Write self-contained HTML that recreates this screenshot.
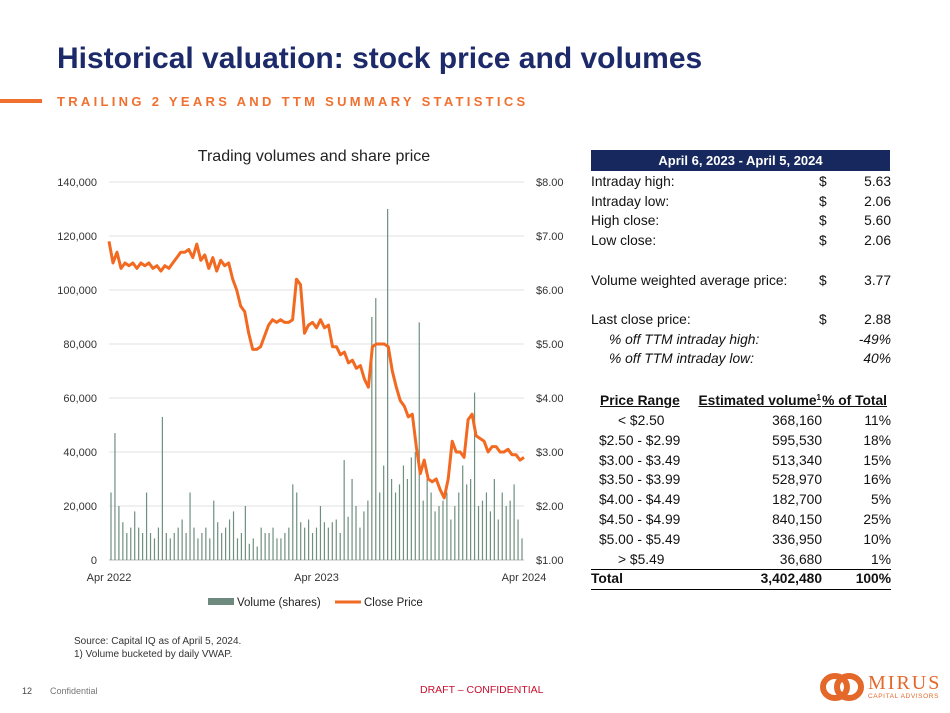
<!DOCTYPE html>
<html><head><meta charset="utf-8">
<style>
body{margin:0;width:950px;height:713px;background:#fff;font-family:"Liberation Sans",sans-serif;position:relative;overflow:hidden}
.a{position:absolute;white-space:nowrap}
.r{position:absolute;left:591px;width:300px;height:20px;font-size:13.8px;color:#111;line-height:20px}
.r>span{position:absolute}
</style></head><body>
<div class="a" style="left:57px;top:42px;font-size:30px;font-weight:bold;color:#1c2a6a">Historical valuation: stock price and volumes</div>
<div class="a" style="left:0;top:99px;width:42px;height:4px;background:#f07030"></div>
<div class="a" style="left:57px;top:94px;font-size:13px;font-weight:bold;color:#f07030;letter-spacing:3.3px">TRAILING 2 YEARS AND TTM SUMMARY STATISTICS</div>

<svg class="a" style="left:0;top:0" width="580" height="620">
<text x="314" y="161" font-size="16" text-anchor="middle" fill="#222">Trading volumes and share price</text>
<g id="grid"></g><g id="bars"></g><g id="line"></g><g id="ticks"></g>
<rect x="208" y="598" width="26" height="7" fill="#6e8a7e"/>
<text x="237" y="606" font-size="11.5" fill="#222">Volume (shares)</text>
<line x1="335" y1="602" x2="361" y2="602" stroke="#f26a21" stroke-width="3"/>
<text x="364" y="606" font-size="11.5" fill="#222">Close Price</text>
</svg>

<div class="a" style="left:591px;top:150px;width:299px;height:21px;background:#16285e;color:#fff;font-weight:bold;font-size:13px;text-align:center;line-height:21px">April 6, 2023 - April 5, 2024</div>
<div id="tbl"></div>
<div class="a" style="left:591px;top:569px;width:300px;height:1px;background:#000"></div>
<div class="a" style="left:591px;top:589px;width:300px;height:1px;background:#000"></div>

<div class="a" style="left:74px;top:635px;font-size:10px;color:#333;line-height:13px">Source: Capital IQ as of April 5, 2024.<br>1) Volume bucketed by daily VWAP.</div>
<div class="a" style="left:22px;top:686px;font-size:9px;color:#444">12</div>
<div class="a" style="left:50px;top:686px;font-size:9px;color:#777">Confidential</div>
<div class="a" style="left:420px;top:684px;font-size:10.5px;color:#c8102e">DRAFT – CONFIDENTIAL</div>
<svg class="a" style="left:818px;top:672px" width="50" height="30">
<ellipse cx="17" cy="15" rx="12" ry="11" fill="none" stroke="#e4682a" stroke-width="6"/>
<ellipse cx="31" cy="15" rx="12" ry="11" fill="none" stroke="#e4682a" stroke-width="6"/>
</svg>
<div class="a" style="left:868px;top:672px;font-family:'Liberation Serif',serif;font-size:20px;color:#e4682a;letter-spacing:2px">MIRUS</div>
<div class="a" style="left:868px;top:693px;font-size:6.5px;color:#e4682a;letter-spacing:0.6px">CAPITAL ADVISORS</div>

<script>
const prices=[6.9,6.5,6.7,6.4,6.5,6.45,6.5,6.4,6.5,6.45,6.5,6.4,6.45,6.35,6.45,6.4,6.5,6.6,6.7,6.7,6.75,6.6,6.85,6.55,6.65,6.4,6.6,6.35,6.55,6.45,6.5,6.2,6.0,5.7,5.6,5.2,4.9,4.9,4.95,5.15,5.35,5.45,5.4,5.45,5.4,5.4,5.45,6.2,6.1,5.2,5.35,5.4,5.3,5.45,5.3,5.35,4.95,4.95,4.8,4.85,4.65,4.7,4.55,4.6,4.35,4.2,4.95,5.0,5.0,5.0,4.95,4.5,4.2,3.95,3.85,3.65,3.7,3.1,2.6,2.85,2.5,2.45,2.5,2.3,2.15,2.5,3.2,3.0,3.0,2.9,3.6,3.7,3.3,3.25,3.2,3.0,3.1,3.1,3.0,3.0,3.05,2.95,2.95,2.85,2.9];
const volumes=[25,47,20,14,10,12,18,12,10,25,10,8,12,53,10,8,10,12,15,10,25,12,8,10,12,8,22,14,10,12,15,18,8,10,20,6,8,5,12,10,10,12,8,8,10,12,28,25,14,12,15,10,12,20,14,12,14,15,10,37,16,30,20,12,18,22,90,97,25,35,130,30,25,28,35,30,38,40,88,22,30,25,18,20,22,25,15,20,25,35,28,30,62,20,22,25,18,30,15,25,20,22,28,15,8];
const volTicks=[0,20000,40000,60000,80000,100000,120000,140000];
const priceTicks=["$1.00","$2.00","$3.00","$4.00","$5.00","$6.00","$7.00","$8.00"];
const xLabels=["Apr 2022","Apr 2023","Apr 2024"];
const X0=109,X1=524,Y0=560,Y1=182;
const yVol=v=>Y0-(v/140000)*(Y0-Y1);
const yPx=p=>Y0-((p-1)/7)*(Y0-Y1);
const NS="http://www.w3.org/2000/svg";
function mk(t,a,p){const e=document.createElementNS(NS,t);for(const k in a)e.setAttribute(k,a[k]);p.appendChild(e);return e;}
const g=document.getElementById('grid'),tk=document.getElementById('ticks');
volTicks.forEach((v,i)=>{const y=yVol(v);
 const l=mk('line',{x1:X0,x2:X1,y1:y,y2:y,stroke:i==0?'#bbb':'#e0e0e0','stroke-width':1},g);
 
 const t=mk('text',{x:97,y:y+4,'font-size':11,'text-anchor':'end',fill:'#333'},tk);t.textContent=v.toLocaleString('en-US');
 
 const t2=mk('text',{x:536,y:y+4,'font-size':11,fill:'#333'},tk);t2.textContent=priceTicks[i];
 });
xLabels.forEach((s,i)=>{const x=X0+i*(X1-X0)/2;const t=mk('text',{x:x,y:581,'font-size':11,'text-anchor':'middle',fill:'#333'},tk);t.textContent=s;
 });
const b=document.getElementById('bars');const nV=volumes.length;
volumes.forEach((v,i)=>{const x=X0+2+i*(X1-X0-4)/(nV-1);const y=yVol(v*1000);
 const r=mk('rect',{x:x-0.6,y:y,width:1.2,height:Y0-y,fill:'#6f8f80'},b);
 });
const n=prices.length;const pts=prices.map((p,i)=>(X0+i*(X1-X0)/(n-1)).toFixed(1)+','+yPx(p).toFixed(1)).join(' ');
const pl=mk('polyline',{points:pts,fill:'none',stroke:'#f26a21','stroke-width':3,'stroke-linejoin':'round'},document.getElementById('line'));


const rows=[
[172,'Intraday high:','$','5.63'],[192,'Intraday low:','$','2.06'],[211,'High close:','$','5.60'],[231,'Low close:','$','2.06'],
[271,'Volume weighted average price:','$','3.77'],[310,'Last close price:','$','2.88'],
[330,'<i>% off TTM intraday high:</i>','','<i>-49%</i>',1],[349,'<i>% off TTM intraday low:</i>','','<i>40%</i>',1]];
const T=document.getElementById('tbl');
rows.forEach(r=>{const d=document.createElement('div');d.className='r';d.style.top=r[0]+'px';
 
 d.innerHTML='<span style="left:'+(r[4]?18:0)+'px">'+r[1]+'</span><span style="left:228px">'+r[2]+'</span><span style="right:0">'+r[3]+'</span>';T.appendChild(d);});
const hd=document.createElement('div');hd.className='r';hd.style.top='391px';hd.style.fontWeight='bold';

hd.innerHTML='<span style="left:9px;text-decoration:underline">Price Range</span><span style="right:70px;text-decoration:underline">Estimated volume<span style="position:relative;top:-5px;font-size:8px;line-height:0">1</span></span><span style="right:4px;text-decoration:underline">% of Total</span>';T.appendChild(hd);
const ranges=[['&lt; $2.50','368,160','11%',1],['$2.50 - $2.99','595,530','18%'],['$3.00 - $3.49','513,340','15%'],['$3.50 - $3.99','528,970','16%'],['$4.00 - $4.49','182,700','5%'],['$4.50 - $4.99','840,150','25%'],['$5.00 - $5.49','336,950','10%'],['&gt; $5.49','36,680','1%',1],['Total','3,402,480','100%',2]];
ranges.forEach((r,i)=>{const d=document.createElement('div');d.className='r';d.style.top=(411+i*19.8)+'px';
 if(r[3]==2)d.style.fontWeight='bold';
 
 d.innerHTML='<span style="left:'+(r[3]==2?0:(r[3]?27:8))+'px">'+r[0]+'</span><span style="right:69px">'+r[1]+'</span><span style="right:0">'+r[2]+'</span>';T.appendChild(d);});
</script>
</body></html>
